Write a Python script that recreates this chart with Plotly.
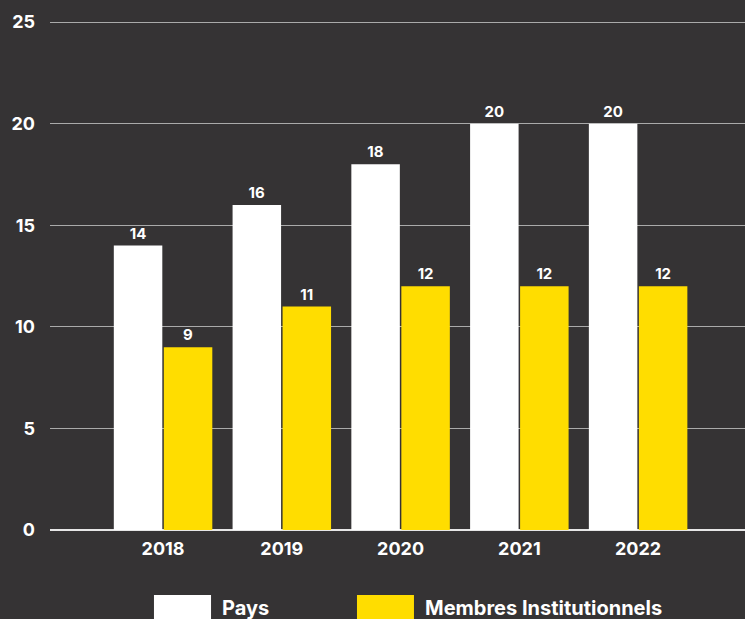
import plotly.graph_objects as go

# Data
years = ["2018", "2019", "2020", "2021", "2022"]
pays = [14, 16, 18, 20, 20]
membres = [9, 11, 12, 12, 12]
series_names = ["Pays", "Membres Institutionnels"]
y_ticks = [0, 5, 10, 15, 20, 25]

BG = "#353334"
WHITE = "#ffffff"
YELLOW = "#ffdd00"
FONT = "Inter, Liberation Sans, Arial, sans-serif"
WEIGHT = 700

fig = go.Figure()
fig.add_trace(go.Bar(
    x=years, y=pays, name=series_names[0],
    marker=dict(color=WHITE, line=dict(width=0)),
    text=pays, textposition="outside", cliponaxis=False,
    textfont=dict(color=WHITE, size=15, family=FONT, weight=WEIGHT),
    showlegend=False,
))
fig.add_trace(go.Bar(
    x=years, y=membres, name=series_names[1],
    marker=dict(color=YELLOW, line=dict(width=0)),
    text=membres, textposition="outside", cliponaxis=False,
    textfont=dict(color=WHITE, size=15, family=FONT, weight=WEIGHT),
    showlegend=False,
))

# Custom legend: large swatches with labels below the plot
legend_items = [
    (series_names[0], WHITE, 0.1496, 0.2317),
    (series_names[1], YELLOW, 0.4417, 0.5237),
]
for name, color, x0, x1 in legend_items:
    fig.add_shape(type="rect", xref="paper", yref="paper",
                  x0=x0, x1=x1, y0=-0.127, y1=-0.2,
                  fillcolor=color, line=dict(width=0))
    fig.add_annotation(xref="paper", yref="paper", x=x1 + 0.0125, y=-0.152,
                       text=name, showarrow=False, xanchor="left", yanchor="middle",
                       font=dict(color=WHITE, size=20, family=FONT, weight=WEIGHT))

fig.update_layout(
    width=745, height=619,
    paper_bgcolor=BG, plot_bgcolor=BG,
    margin=dict(l=50, r=0, t=18, b=89),
    barmode="group", bargap=0.158, bargroupgap=0.03,
    font=dict(family=FONT, color=WHITE, size=18, weight=WEIGHT),
    xaxis=dict(
        type="category", range=[-0.952, 4.90],
        showgrid=False, showline=False, zeroline=False,
        ticks="", ticklabelstandoff=6,
        tickfont=dict(size=18, color=WHITE, family=FONT, weight=WEIGHT),
    ),
    yaxis=dict(
        range=[0, 25.2], tickvals=y_ticks,
        showgrid=True, gridcolor="#aaaaaa", gridwidth=1,
        zeroline=True, zerolinecolor="#e6e6e6", zerolinewidth=2,
        showline=False, ticks="", ticklabelstandoff=14,
        tickfont=dict(size=18, color=WHITE, family=FONT, weight=WEIGHT),
    ),
)

fig.write_html("out.html")
